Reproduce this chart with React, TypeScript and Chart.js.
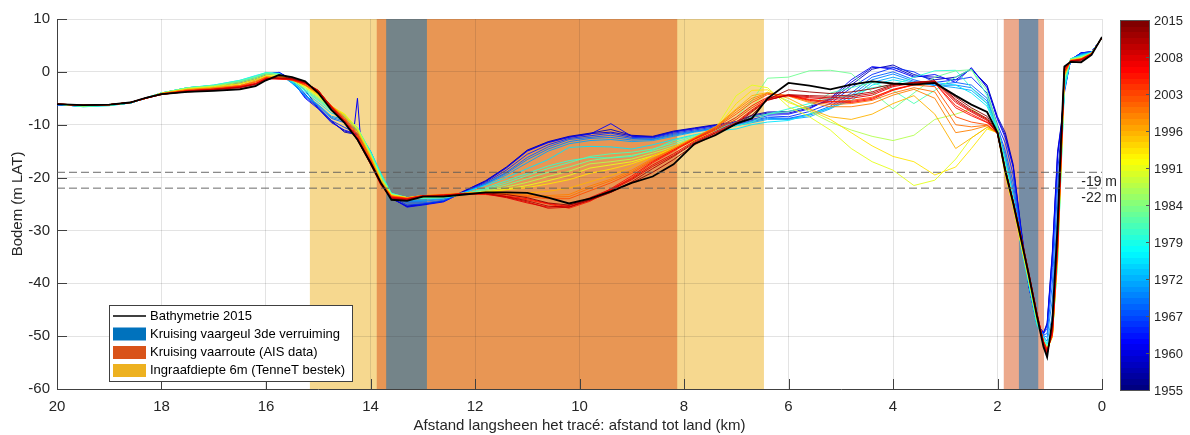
import { useEffect, useRef } from 'react';
import { Chart, registerables } from 'chart.js';
Chart.register(...registerables);

// distance to shore (km) shared by every profile
const X_KM = [
  20, 19.5, 19, 18.6, 18.3, 18, 17.5, 17, 16.5, 16.2,
  16, 15.75, 15.5, 15.25, 15, 14.75, 14.5, 14.25, 14,
  13.8, 13.6, 13.3, 13,
  12.6, 12.2, 11.8, 11.4, 11, 10.6, 10.2, 9.8, 9.4, 9, 8.6, 8.2, 7.8, 7.4, 7,
  6.7, 6.4, 6, 5.6, 5.2, 4.8, 4.4, 4, 3.6, 3.2, 2.8, 2.5, 2.2,
  2.0, 1.85, 1.7, 1.55, 1.4, 1.25, 1.12, 1.05, 0.95, 0.85, 0.78, 0.72, 0.6, 0.4, 0.2, 0,
];

const BATHY_2015 = [
  -6.1, -6.3, -6.2, -5.8, -4.9, -4.2, -3.8, -3.6, -3.3, -2.7,
  -1.6, -0.6, -1.0, -1.8, -4.0, -7.2, -9.6, -12.8, -17.2,
  -21.0, -24.2, -24.4, -23.6,
  -23.6, -23.2, -22.8, -22.8, -22.9, -23.8, -24.9, -24.0, -22.6, -21.0, -19.8, -17.5, -13.6, -12.0, -9.8,
  -8.8, -5.0, -2.1, -2.6, -3.3, -2.4, -1.8, -2.2, -2.4, -2.1, -4.5, -6.2, -7.6,
  -11.5, -18.8, -24.8, -31.6, -38.5, -46.0, -52.0, -54.0, -47.0, -29.0, -12.0, 1.0, 1.9, 1.8, 3.2, 6.6,
];

const P_2014 = [
  -6.1, -6.3, -6.2, -5.8, -4.9, -4.2, -3.8, -3.5, -3.2, -2.6,
  -1.5, -0.9, -1.2, -1.9, -3.8, -7.0, -9.6, -12.9, -17.4,
  -21.2, -24.1, -24.3, -23.6,
  -23.5, -23.2, -22.9, -23.2, -23.8, -24.8, -25.2, -24.2, -22.8, -21.0, -19.0, -16.6, -13.8, -11.8, -9.9,
  -8.2, -5.2, -3.4, -3.8, -4.1, -3.8, -3.2, -2.3, -2.2, -1.9, -4.8, -6.8, -8.4,
  -11.6, -18.7, -24.7, -31.4, -38.4, -45.8, -51.8, -53.6, -48.0, -30.0, -13.0, 0.9, 2.0, 2.0, 3.3, 6.5,
];
const P_2012 = [
  -6.1, -6.3, -6.2, -5.8, -4.9, -4.3, -3.7, -3.4, -3.0, -2.4,
  -1.4, -1.2, -1.3, -2.0, -3.6, -6.8, -9.5, -12.9, -17.5,
  -21.3, -24.0, -24.2, -23.5,
  -23.5, -23.1, -23.0, -23.6, -24.4, -25.4, -25.6, -24.3, -22.8, -20.8, -18.3, -16.0, -13.5, -11.6, -9.9,
  -7.6, -5.4, -4.3, -4.5, -4.6, -4.4, -3.8, -2.4, -2.0, -1.7, -5.2, -7.2, -8.8,
  -11.8, -18.6, -24.6, -31.2, -38.2, -45.6, -51.6, -53.4, -48.5, -31.0, -13.5, 0.8, 2.0, 2.2, 3.3, 6.5,
];
const P_2010 = [
  -6.1, -6.3, -6.2, -5.8, -5.0, -4.3, -3.6, -3.3, -2.9, -2.3,
  -1.3, -1.2, -1.3, -2.1, -3.5, -6.7, -9.5, -12.7, -17.4,
  -21.4, -23.9, -24.2, -23.6,
  -23.4, -23.0, -23.0, -23.7, -24.6, -25.8, -25.6, -24.0, -22.4, -20.4, -17.9, -15.8, -13.3, -11.5, -9.7,
  -7.4, -5.3, -4.4, -4.7, -4.9, -4.7, -4.1, -2.6, -2.0, -1.7, -5.5, -7.4, -9.0,
  -11.7, -18.5, -24.5, -31.1, -38.1, -45.4, -51.4, -53.2, -48.8, -31.5, -14.0, 0.6, 2.0, 2.3, 3.4, 6.5,
];
const P_2009 = [
  -6.1, -6.3, -6.2, -5.8, -5.0, -4.3, -3.6, -3.3, -2.9, -2.3,
  -1.3, -1.3, -1.4, -2.1, -3.5, -6.6, -9.4, -12.6, -17.3,
  -21.4, -23.8, -24.1, -23.6,
  -23.3, -23.0, -23.1, -23.8, -24.8, -25.6, -25.3, -23.8, -22.2, -20.2, -17.6, -15.5, -13.1, -11.3, -9.5,
  -7.2, -5.2, -4.5, -4.9, -5.2, -5.0, -4.4, -2.8, -2.1, -1.8, -5.8, -7.6, -9.2,
  -11.6, -18.4, -24.4, -31.0, -38.0, -45.3, -51.3, -53.0, -49.0, -32.0, -14.5, 0.5, 2.1, 2.3, 3.4, 6.5,
];
const P_2007 = [
  -6.1, -6.3, -6.2, -5.8, -5.0, -4.2, -3.6, -3.3, -2.8, -2.2,
  -1.2, -1.3, -1.5, -2.2, -3.7, -6.5, -9.1, -12.3, -16.9,
  -21.1, -23.7, -24.0, -23.4,
  -23.3, -23.1, -23.1, -23.5, -24.0, -24.9, -25.5, -24.3, -22.1, -19.7, -17.0, -14.8, -12.7, -10.8, -8.6,
  -6.4, -4.8, -4.5, -5.4, -5.9, -5.8, -5.2, -3.5, -2.4, -2.1, -6.8, -8.3, -9.6,
  -11.4, -18.6, -24.6, -31.4, -38.4, -45.6, -51.0, -52.7, -49.6, -33.2, -15.2, 0.1, 2.0, 2.4, 3.4, 6.5,
];
const P_2006 = [
  -6.1, -6.3, -6.2, -5.8, -5.0, -4.2, -3.6, -3.3, -2.8, -2.2,
  -1.2, -1.4, -1.5, -2.2, -3.6, -6.5, -9.2, -12.4, -17.0,
  -21.2, -23.7, -24.0, -23.4,
  -23.4, -23.1, -23.2, -23.6, -24.2, -25.0, -25.8, -24.5, -22.4, -20.0, -17.2, -15.0, -12.8, -11.0, -9.0,
  -6.8, -5.0, -4.4, -5.2, -5.6, -5.6, -5.0, -3.3, -2.4, -2.0, -6.4, -8.0, -9.5,
  -11.4, -18.5, -24.5, -31.3, -38.3, -45.5, -51.0, -52.8, -49.5, -33.0, -15.0, 0.2, 2.0, 2.4, 3.4, 6.5,
];
const P_2003 = [
  -6.1, -6.3, -6.2, -5.8, -5.0, -4.2, -3.5, -3.2, -2.7, -2.0,
  -1.1, -1.2, -1.6, -2.4, -3.9, -6.5, -8.9, -12.0, -16.6,
  -21.0, -23.6, -24.0, -23.5,
  -23.3, -23.0, -23.0, -23.3, -23.6, -24.0, -24.0, -22.5, -21.0, -19.2, -16.8, -14.8, -12.6, -10.6, -8.0,
  -5.8, -4.3, -4.4, -5.3, -5.6, -5.4, -4.8, -3.4, -2.5, -2.8, -8.5, -9.5, -10.0,
  -11.5, -18.8, -24.8, -31.5, -38.5, -45.8, -51.2, -52.6, -49.8, -33.5, -15.5, 0.0, 2.1, 2.4, 3.4, 6.5,
];
const P_2001 = [
  -6.1, -6.3, -6.2, -5.8, -5.0, -4.1, -3.4, -3.1, -2.6, -1.9,
  -1.0, -1.1, -1.5, -2.5, -4.0, -6.5, -8.7, -11.8, -16.4,
  -20.9, -23.5, -23.9, -23.5,
  -23.2, -23.0, -23.0, -23.1, -23.4, -23.7, -23.6, -22.0, -20.6, -18.9, -16.6, -14.6, -12.5, -10.5, -7.6,
  -5.4, -4.1, -4.5, -5.6, -6.2, -6.0, -5.4, -4.0, -3.0, -3.8, -10.0, -10.4, -10.1,
  -11.6, -18.9, -24.9, -31.6, -38.6, -45.9, -51.1, -52.5, -49.9, -33.8, -15.8, -0.3, 2.1, 2.4, 3.4, 6.5,
];
const P_2000 = [
  -6.1, -6.3, -6.2, -5.8, -5.0, -4.1, -3.4, -3.1, -2.6, -1.8,
  -1.0, -1.1, -1.5, -2.5, -4.1, -6.4, -8.6, -11.6, -16.3,
  -20.8, -23.5, -23.9, -23.5,
  -23.2, -23.0, -22.9, -23.0, -23.3, -23.4, -23.2, -21.6, -20.3, -18.6, -16.4, -14.5, -12.5, -10.5, -7.2,
  -5.0, -4.0, -4.6, -5.8, -6.6, -6.6, -6.0, -4.4, -3.3, -5.0, -11.5, -11.0, -10.2,
  -11.6, -19.0, -25.0, -31.8, -38.8, -46.0, -51.0, -52.4, -50.0, -34.0, -16.0, -0.5, 2.2, 2.5, 3.5, 6.5,
];
const P_1997 = [
  -6.1, -6.3, -6.2, -5.8, -5.0, -4.1, -3.3, -3.0, -2.5, -1.7,
  -0.9, -1.0, -1.5, -2.6, -4.3, -6.4, -8.3, -11.3, -16.0,
  -20.6, -23.4, -23.8, -23.4,
  -23.2, -22.9, -22.8, -22.8, -22.9, -22.6, -22.0, -20.8, -19.6, -18.0, -16.0, -14.2, -12.4, -10.4, -7.0,
  -4.5, -3.9, -5.0, -7.0, -8.5, -9.0, -8.0, -6.0, -4.5, -8.0, -14.5, -12.5, -10.5,
  -11.6, -19.2, -25.2, -32.0, -39.0, -46.2, -51.0, -52.5, -50.0, -34.5, -16.5, -0.8, 2.2, 2.5, 3.5, 6.5,
];
const P_1994 = [
  -6.1, -6.4, -6.2, -5.8, -5.0, -4.1, -3.3, -2.9, -2.3, -1.5,
  -0.8, -0.8, -1.4, -2.7, -4.4, -6.5, -8.0, -11.0, -16.0,
  -20.4, -23.3, -23.8, -23.4,
  -23.3, -23.0, -22.7, -22.3, -21.9, -21.2, -20.4, -19.2, -18.4, -17.4, -16.0, -14.6, -13.0, -11.0, -6.0,
  -3.5, -3.4, -5.8, -7.2, -9.0, -11.5, -14.0, -16.0, -17.0, -19.5, -18.0, -14.5, -10.8,
  -11.5, -19.5, -25.5, -32.5, -39.0, -46.5, -51.0, -52.5, -50.0, -34.0, -16.0, 0.0, 2.2, 2.5, 3.5, 6.5,
];
const P_1991 = [
  -6.1, -6.4, -6.2, -5.8, -5.0, -4.1, -3.2, -2.8, -2.2, -1.4,
  -0.7, -0.8, -1.5, -2.9, -4.6, -6.6, -7.9, -10.8, -15.8,
  -20.2, -23.3, -23.8, -23.6,
  -23.5, -23.2, -22.8, -22.2, -21.5, -20.6, -19.6, -18.2, -17.6, -17.0, -15.9, -14.5, -13.0, -10.8, -4.5,
  -2.5, -3.0, -6.6, -8.5, -11.0, -14.5, -17.0, -18.6, -21.5, -20.5, -16.5, -12.5, -10.5,
  -11.4, -19.6, -25.6, -32.6, -39.2, -46.6, -51.2, -52.6, -50.2, -34.5, -16.5, -0.5, 2.2, 2.6, 3.5, 6.5,
];
const P_1988 = [
  -6.1, -6.4, -6.2, -5.8, -5.0, -4.0, -3.1, -2.7, -2.0, -1.2,
  -0.5, -0.6, -1.5, -3.0, -4.8, -6.8, -8.0, -10.6, -15.6,
  -20.0, -23.2, -23.8, -23.7,
  -23.6, -23.2, -22.6, -21.8, -20.9, -19.8, -18.8, -17.4, -17.0, -16.5, -15.4, -14.2, -12.7, -11.0, -9.0,
  -6.5, -3.8, -5.5, -7.5, -9.5, -11.0, -12.2, -13.0, -12.0, -9.0, -8.0, -7.0, -9.0,
  -11.0, -19.0, -25.0, -32.5, -39.5, -46.8, -51.0, -52.2, -50.0, -35.0, -17.0, -1.0, 2.3, 2.7, 3.5, 6.4,
];
const P_1984 = [
  -6.1, -6.5, -6.3, -5.9, -5.0, -4.0, -3.0, -2.6, -1.8, -1.0,
  -0.3, -0.5, -1.6, -3.2, -5.0, -7.0, -8.2, -10.5, -15.4,
  -19.8, -23.1, -23.8, -23.8,
  -23.7, -23.2, -22.4, -21.4, -20.2, -19.0, -18.0, -16.8, -16.2, -15.8, -15.0, -13.8, -12.4, -10.8, -8.6,
  -5.5, -1.2, -1.0, 0.2, 0.3, -0.3, -3.8, -7.0, -4.0, -1.0, 0.2, 0.4, -3.5,
  -10.5, -18.0, -24.5, -32.0, -39.5, -47.0, -50.8, -52.0, -50.0, -35.5, -17.5, -1.5, 2.4, 2.8, 3.6, 6.4,
];
const P_1982 = [
  -6.1, -6.5, -6.3, -5.9, -5.0, -4.0, -3.0, -2.6, -1.7, -0.9,
  -0.2, -0.4, -1.7, -3.4, -5.2, -7.2, -8.3, -10.5, -15.3,
  -19.6, -23.0, -23.8, -23.9,
  -23.8, -23.2, -22.2, -21.0, -19.6, -18.3, -17.2, -16.0, -15.5, -15.2, -14.6, -13.4, -12.2, -11.0, -9.5,
  -8.5, -8.0, -7.5, -6.5, -4.0, -3.0, -2.0, -3.5, -6.0, -3.5, -1.0, 0.5, -4.5,
  -10.6, -17.8, -24.2, -32.5, -39.8, -47.2, -50.6, -52.0, -49.8, -35.8, -17.8, -2.0, 2.5, 2.9, 3.6, 6.4,
];
const P_1980 = [
  -6.1, -6.6, -6.4, -5.9, -4.9, -4.0, -3.0, -2.5, -1.6, -0.8,
  -0.1, -0.3, -1.8, -3.6, -5.4, -7.4, -8.4, -10.6, -15.2,
  -19.4, -23.0, -23.8, -23.9,
  -23.8, -23.1, -22.0, -20.6, -19.2, -17.8, -16.8, -16.2, -16.3, -16.0, -14.8, -13.0, -12.0, -11.0, -10.2,
  -9.5, -8.0, -7.0, -6.0, -5.0, -4.5, -3.0, -2.5, -1.0, 0.2, 0.3, -3.0, -6.0,
  -10.8, -17.5, -24.0, -33.0, -40.0, -47.5, -50.5, -52.0, -49.5, -36.0, -18.0, -3.0, 2.5, 3.0, 3.6, 6.4,
];
const P_1976 = [
  -6.1, -6.6, -6.4, -5.9, -4.9, -4.0, -3.0, -2.5, -1.6, -0.7,
  -0.2, -0.4, -2.0, -3.9, -5.8, -7.8, -8.6, -10.8, -15.0,
  -19.2, -23.0, -23.9, -24.0,
  -23.8, -22.8, -21.5, -20.0, -18.3, -16.6, -14.3, -14.1, -14.2, -14.6, -13.8, -12.8, -11.9, -11.2, -10.8,
  -10.0, -9.5, -9.2, -8.0, -6.8, -5.5, -2.5, -1.5, -2.2, -2.0, -2.5, -4.0, -6.5,
  -11.2, -16.6, -23.6, -32.8, -40.2, -47.8, -50.2, -51.5, -48.5, -34.0, -17.0, -3.5, 2.4, 3.1, 3.7, 6.4,
];
const P_1972 = [
  -6.2, -6.5, -6.3, -5.9, -5.0, -4.0, -3.0, -2.6, -1.8, -1.0,
  -0.3, -0.3, -2.2, -4.4, -6.2, -8.4, -9.0, -11.0, -15.0,
  -19.4, -23.2, -24.3, -24.3,
  -24.0, -22.9, -21.3, -19.5, -17.2, -15.0, -13.6, -13.0, -12.8, -13.2, -13.0, -12.2, -11.4, -10.8, -10.2,
  -9.6, -9.0, -9.0, -8.5, -7.0, -5.0, -2.0, -1.0, -2.0, -2.5, -3.0, -3.5, -6.0,
  -11.0, -16.5, -23.5, -32.5, -40.2, -47.5, -50.0, -51.0, -46.0, -30.0, -16.0, -3.0, 2.4, 3.2, 3.7, 6.4,
];
const P_1970 = [
  -6.2, -6.5, -6.3, -5.9, -5.0, -4.0, -3.0, -2.6, -1.8, -1.1,
  -0.3, -0.3, -2.1, -4.5, -6.3, -8.6, -9.3, -11.1, -15.1,
  -19.5, -23.3, -24.5, -24.5,
  -24.1, -22.8, -21.2, -19.2, -16.6, -14.6, -13.2, -12.6, -12.4, -12.9, -12.8, -12.0, -11.3, -10.7, -10.1,
  -9.4, -8.8, -8.9, -8.2, -6.8, -4.5, -1.5, -0.4, -1.8, -2.6, -2.5, -3.0, -5.5,
  -10.8, -15.8, -22.2, -31.8, -40.2, -47.5, -49.9, -50.2, -43.0, -26.0, -14.5, -3.2, 2.4, 3.3, 3.7, 6.4,
];
const P_1968 = [
  -6.2, -6.5, -6.3, -5.9, -5.0, -4.0, -3.1, -2.7, -1.9, -1.2,
  -0.4, -0.2, -2.0, -4.6, -6.5, -8.8, -9.6, -11.2, -15.2,
  -19.6, -23.4, -24.8, -24.8,
  -24.3, -22.8, -21.2, -19.0, -16.2, -14.2, -12.8, -12.4, -12.0, -12.6, -12.7, -11.8, -11.2, -10.6, -10.0,
  -9.2, -8.6, -8.8, -8.0, -6.5, -4.0, -1.0, 0.0, -1.5, -2.5, -2.0, -2.5, -5.0,
  -10.5, -15.0, -21.0, -31.0, -40.2, -47.5, -49.8, -49.5, -40.0, -22.0, -13.0, -3.5, 2.3, 3.4, 3.8, 6.4,
];
const P_1965 = [
  -6.2, -6.5, -6.3, -5.9, -5.0, -4.1, -3.1, -2.8, -2.0, -1.3,
  -0.4, -0.1, -1.8, -4.8, -6.8, -9.2, -10.5, -11.6, -15.4,
  -19.8, -23.6, -25.2, -25.0,
  -24.5, -22.7, -21.0, -18.6, -15.6, -13.8, -12.6, -12.1, -11.6, -12.4, -12.5, -11.6, -11.0, -10.4, -9.8,
  -9.0, -8.3, -8.5, -7.5, -6.0, -3.0, -0.5, 0.8, 0.0, -2.0, -1.5, -1.0, -4.0,
  -10.0, -13.5, -19.5, -30.5, -40.3, -47.4, -49.6, -48.5, -37.0, -19.0, -11.5, -4.0, 2.4, 3.5, 3.8, 6.4,
];
const P_1962 = [
  -6.2, -6.5, -6.3, -5.9, -5.0, -4.1, -3.2, -2.8, -2.1, -1.4,
  -0.5, -0.1, -1.6, -5.0, -7.0, -9.6, -11.0, -11.8, -15.6,
  -20.0, -23.8, -25.6, -25.2,
  -24.6, -22.6, -20.8, -18.2, -15.0, -13.4, -12.4, -11.8, -9.8, -12.2, -12.4, -11.4, -10.8, -10.2, -9.6,
  -8.6, -8.0, -8.0, -7.0, -5.0, -1.5, 1.0, 0.5, -1.0, -0.5, -2.0, 0.8, -3.0,
  -9.0, -12.5, -18.0, -30.0, -40.5, -47.5, -49.4, -48.0, -35.0, -16.0, -10.5, -3.5, 2.3, 3.6, 3.8, 6.4,
];
const P_1960 = [
  -6.2, -6.5, -6.3, -5.9, -5.0, -4.1, -3.2, -2.8, -2.1, -1.4,
  -0.5, -0.1, -1.5, -4.2, -6.9, -9.4, -11.2, -11.8, -15.7,
  -20.1, -23.9, -25.5, -25.1,
  -24.5, -22.5, -20.7, -18.1, -14.9, -13.3, -12.3, -11.7, -11.4, -12.1, -12.3, -11.3, -10.7, -10.1, -9.5,
  -8.4, -7.8, -7.8, -6.8, -5.2, -2.0, 0.8, 0.9, -0.8, -1.0, -1.5, 0.6, -2.8,
  -8.8, -12.0, -17.8, -29.8, -40.5, -47.5, -49.4, -47.8, -34.5, -15.5, -10.2, -3.2, 2.2, 3.6, 3.8, 6.4,
];
const P_1958 = [
  -6.2, -6.4, -6.3, -5.9, -5.0, -4.1, -3.2, -2.9, -2.2, -1.5,
  -0.6, -0.2, -1.3, -3.5, -6.8, -9.2, -11.4, -11.9, -15.8,
  -20.2, -24.0, -25.4, -25.0,
  -24.4, -22.5, -20.6, -18.0, -14.8, -13.2, -12.2, -11.6, -10.9, -12.0, -12.2, -11.2, -10.6, -10.0, -9.4,
  -8.2, -7.6, -7.5, -6.5, -5.5, -2.5, 0.5, 1.3, -0.5, -1.5, -1.0, 0.5, -2.5,
  -8.5, -11.5, -17.5, -29.5, -40.5, -47.5, -49.4, -47.5, -34.0, -15.0, -10.0, -3.0, 2.2, 3.6, 3.8, 6.4,
];

// short spike in the 1962 survey
const SPIKE_X = [14.32, 14.25, 14.2];
const SPIKE_Y = [-11.2, -5.0, -11.4];

const YEARS = [2014, 2012, 2010, 2009, 2007, 2006, 2003, 2001, 2000, 1997, 1994, 1991, 1988, 1984, 1982, 1980, 1976, 1972, 1970, 1968, 1965, 1962, 1960, 1958];
const PROFILES = [P_2014, P_2012, P_2010, P_2009, P_2007, P_2006, P_2003, P_2001, P_2000, P_1997, P_1994, P_1991, P_1988, P_1984, P_1982, P_1980, P_1976, P_1972, P_1970, P_1968, P_1965, P_1962, P_1960, P_1958];

const YEAR_MIN = 1955;
const YEAR_MAX = 2015;
const COLORBAR_LABELS = ['2015', '2008', '2003', '1996', '1991', '1984', '1979', '1972', '1967', '1960', '1955'];

const DEPTH_LINES = [-19, -22];
const DEPTH_LABELS = ['-19 m', '-22 m'];
const DASH_X = [20, 0];

const YELLOW_BANDS = [[15.16, 6.47]];
const ORANGE_BANDS = [[13.88, 8.13], [1.88, 1.11]];
const BLUE_BANDS = [[13.70, 12.92], [1.59, 1.22]];

const LEGEND_LABELS = [
  'Bathymetrie 2015',
  'Kruising vaargeul 3de verruiming',
  'Kruising vaarroute (AIS data)',
  'Ingraafdiepte 6m (TenneT bestek)',
];

const FONT = "'Liberation Sans', Arial, Helvetica, sans-serif";
const TXT = '#262626';

function jet(t: number): [number, number, number] {
  const c = (v: number) => Math.max(0, Math.min(1, v));
  return [c(1.5 - Math.abs(4 * t - 3)), c(1.5 - Math.abs(4 * t - 2)), c(1.5 - Math.abs(4 * t - 1))];
}
function jetCss(t: number, a = 1) {
  const [r, g, b] = jet(t);
  return `rgba(${Math.round(r * 255)},${Math.round(g * 255)},${Math.round(b * 255)},${a})`;
}
const yearT = (y: number) => (y - YEAR_MIN) / (YEAR_MAX - YEAR_MIN);

const overlayPlugin = {
  id: 'overlay',
  beforeDraw(chart: any) {
    const { ctx, chartArea: a, scales } = chart;
    const xs = scales.x;
    ctx.save();
    ctx.fillStyle = '#ffffff';
    ctx.fillRect(0, 0, chart.width, chart.height);
    const bands = (list: number[][], color: string) => {
      ctx.fillStyle = color;
      for (const [x0, x1] of list) {
        const p0 = xs.getPixelForValue(x0);
        const p1 = xs.getPixelForValue(x1);
        ctx.fillRect(Math.min(p0, p1), a.top, Math.abs(p1 - p0), a.bottom - a.top);
      }
    };
    bands(YELLOW_BANDS, 'rgba(237,177,32,0.5)');
    bands(ORANGE_BANDS, 'rgba(217,83,25,0.5)');
    bands(BLUE_BANDS, 'rgba(0,114,189,0.5)');
    ctx.restore();
  },
  afterDraw(chart: any) {
    const { ctx, chartArea: a, scales } = chart;
    const xs = scales.x;
    const ys = scales.y;
    ctx.save();
    // inward ticks
    ctx.strokeStyle = '#404040';
    ctx.lineWidth = 1;
    ctx.beginPath();
    for (const t of ys.ticks) {
      const p = Math.round(ys.getPixelForValue(t.value)) + 0.5;
      ctx.moveTo(a.left, p);
      ctx.lineTo(a.left + 10, p);
    }
    for (const t of xs.ticks) {
      const p = Math.round(xs.getPixelForValue(t.value)) + 0.5;
      ctx.moveTo(p, a.bottom);
      ctx.lineTo(p, a.bottom - 10);
    }
    ctx.stroke();

    // depth labels
    ctx.fillStyle = TXT;
    ctx.font = `14px ${FONT}`;
    ctx.textAlign = 'right';
    ctx.textBaseline = 'middle';
    DEPTH_LINES.forEach((d, i) => {
      ctx.fillText(DEPTH_LABELS[i], a.right + 15, ys.getPixelForValue(d) + 10);
    });

    // legend
    const lx = 109, ly = 305, lw = 243, lh = 76;
    ctx.fillStyle = '#ffffff';
    ctx.fillRect(lx, ly, lw, lh);
    ctx.strokeStyle = '#404040';
    ctx.strokeRect(lx + 0.5, ly + 0.5, lw, lh);
    ctx.strokeStyle = '#000000';
    ctx.lineWidth = 1.5;
    ctx.beginPath();
    ctx.moveTo(113, 316);
    ctx.lineTo(146, 316);
    ctx.stroke();
    const patchColors = ['#0072BD', '#D95319', '#EDB120'];
    const rows = [316, 334, 352.5, 370.5];
    patchColors.forEach((c, i) => {
      ctx.fillStyle = c;
      ctx.fillRect(113, rows[i + 1] - 6.5, 33, 13);
    });
    ctx.fillStyle = '#000000';
    ctx.font = `13px ${FONT}`;
    ctx.textAlign = 'left';
    ctx.textBaseline = 'middle';
    LEGEND_LABELS.forEach((s, i) => ctx.fillText(s, 150, rows[i]));

    // colorbar
    const cx = 1120, cw = 29, cTop = 20, cBot = 390;
    const n = 64;
    const h = (cBot - cTop) / n;
    for (let k = 0; k < n; k++) {
      ctx.fillStyle = jetCss(k / (n - 1));
      const yb = cBot - (k + 1) * h;
      ctx.fillRect(cx, Math.floor(yb), cw, Math.ceil(h) + 1);
    }
    ctx.strokeStyle = '#555555';
    ctx.lineWidth = 1;
    ctx.strokeRect(cx + 0.5, cTop + 0.5, cw, cBot - cTop);
    ctx.fillStyle = TXT;
    ctx.font = `13px ${FONT}`;
    ctx.textAlign = 'left';
    ctx.textBaseline = 'middle';
    const step = (cBot - cTop) / (COLORBAR_LABELS.length - 1);
    ctx.beginPath();
    COLORBAR_LABELS.forEach((s, i) => {
      const yy = cTop + i * step;
      ctx.fillText(s, cx + cw + 5, yy + 1);
      const py = Math.round(yy) + 0.5;
      ctx.moveTo(cx + cw, py);
      ctx.lineTo(cx + cw - 3, py);
    });
    ctx.stroke();
    ctx.restore();
  },
};

export default function App() {
  const ref = useRef<HTMLCanvasElement | null>(null);
  useEffect(() => {
    if (!ref.current) return;
    const toPts = (xs: number[], ys: number[]) => xs.map((x, i) => ({ x, y: ys[i] }));
    const datasets: any[] = [];
    DEPTH_LINES.forEach((d) => {
      datasets.push({
        data: toPts(DASH_X, DASH_X.map(() => d)),
        borderColor: 'rgba(90,90,90,0.9)',
        borderWidth: 1,
        borderDash: [8, 4],
        pointRadius: 0,
      });
    });
    datasets.push({
      data: toPts(X_KM, BATHY_2015),
      borderColor: '#000000',
      borderWidth: 1.8,
      pointRadius: 0,
    });
    YEARS.forEach((yr, i) => {
      if (yr === 1962) {
        datasets.push({
          data: toPts(SPIKE_X, SPIKE_Y),
          borderColor: jetCss(yearT(yr)),
          borderWidth: 1,
          pointRadius: 0,
        });
      }
      datasets.push({
        data: toPts(X_KM, PROFILES[i]),
        borderColor: jetCss(yearT(yr), 0.9),
        borderWidth: 1,
        pointRadius: 0,
      });
    });

    const chart = new Chart(ref.current, {
      type: 'line',
      data: { datasets },
      plugins: [overlayPlugin],
      options: {
        animation: false,
        responsive: false,
        devicePixelRatio: 1,
        layout: { padding: { left: 0, top: 19, right: 88, bottom: 0 } },
        plugins: { legend: { display: false }, tooltip: { enabled: false } },
        elements: { line: { tension: 0 } },
        scales: {
          x: {
            type: 'linear',
            reverse: true,
            min: 0,
            max: 20,
            afterFit: (s: any) => { s.height = 46; },
            ticks: { stepSize: 2, padding: 9, color: TXT, font: { size: 15, family: FONT } },
            grid: { color: 'rgba(38,38,38,0.13)', drawTicks: false },
            border: { color: '#404040', width: 1 },
            title: {
              display: true,
              text: 'Afstand langsheen het tracé: afstand tot land (km)',
              color: TXT,
              font: { size: 15, family: FONT },
              padding: { top: 0, bottom: 0 },
            },
          },
          y: {
            type: 'linear',
            min: -60,
            max: 10,
            afterFit: (s: any) => { s.width = 57; },
            ticks: { stepSize: 10, padding: 7, color: TXT, font: { size: 15, family: FONT } },
            grid: { color: 'rgba(38,38,38,0.13)', drawTicks: false },
            border: { color: '#404040', width: 1 },
            title: {
              display: true,
              text: 'Bodem (m LAT)',
              color: TXT,
              font: { size: 15, family: FONT },
              padding: { top: 9, bottom: 0 },
            },
          },
        },
      },
    } as any);
    return () => chart.destroy();
  }, []);
  return (
    <div style={{ position: 'fixed', left: 0, top: 0, width: 1190, height: 435, background: '#fff' }}>
      <canvas ref={ref} width={1190} height={435} style={{ display: 'block' }} />
    </div>
  );
}
